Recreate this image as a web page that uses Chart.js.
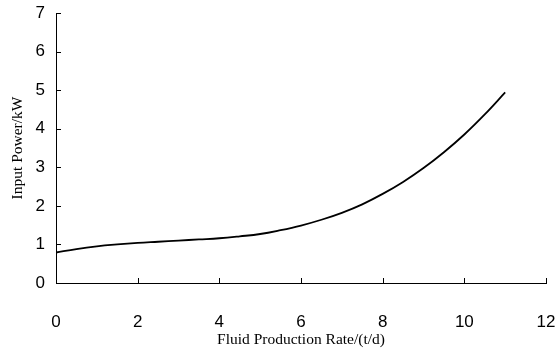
<!DOCTYPE html>
<html>
<head>
<meta charset="utf-8">
<script src="https://cdn.jsdelivr.net/npm/chart.js@4/dist/chart.umd.min.js"></script>
<style>
  html, body { margin: 0; padding: 0; background: #fff; }
  #wrap { width: 560px; height: 348px; }
</style>
</head>
<body>
<div id="wrap"><canvas id="myChart" width="560" height="348"></canvas></div>
<script>
// fluid production rate (t/d) and input power (kW)
const rate = [0, 0.5, 1, 1.5, 2, 2.5, 3, 3.5, 4, 4.5, 5, 5.5, 6, 6.5, 7, 7.5, 8, 8.5, 9, 9.5, 10, 10.5, 11];
const power = [0.79, 0.88, 0.95, 1.0, 1.04, 1.07, 1.1, 1.13, 1.16, 1.21, 1.27, 1.37, 1.49, 1.64, 1.82, 2.04, 2.31, 2.62, 2.98, 3.39, 3.85, 4.37, 4.94];
const xTitle = 'Fluid Production Rate/(t/d)';
const yTitle = 'Input Power/kW';

const points = rate.map((x, i) => ({ x: x, y: power[i] }));

// short tick marks pointing into the plot
const innerTicks = {
    id: 'innerTicks',
    afterDraw(chart) {
        const ctx = chart.ctx;
        const xs = chart.scales.x, ys = chart.scales.y;
        ctx.save();
        ctx.strokeStyle = '#000';
        ctx.lineWidth = 1;
        ctx.beginPath();
        xs.ticks.forEach(t => {
            const px = Math.round(xs.getPixelForValue(t.value)) + 0.5;
            ctx.moveTo(px, ys.bottom);
            ctx.lineTo(px, ys.bottom - 5);
        });
        ys.ticks.forEach(t => {
            const py = Math.round(ys.getPixelForValue(t.value)) + 0.5;
            ctx.moveTo(xs.left, py);
            ctx.lineTo(xs.left + 5, py);
        });
        ctx.stroke();
        ctx.restore();
    }
};

const tickFont = { family: '"Liberation Sans", Arial, sans-serif', size: 17 };
const titleFont = { family: '"Liberation Serif", "Times New Roman", serif', size: 15.5 };

function noPad(scale) {
    scale.paddingLeft = 0;
    scale.paddingRight = 0;
    scale.paddingTop = 0;
    scale.paddingBottom = 0;
}

new Chart(document.getElementById('myChart').getContext('2d'), {
    type: 'line',
    data: {
        datasets: [{
            data: points,
            borderColor: '#000',
            borderWidth: 1.8,
            pointRadius: 0,
            tension: 0.4,
            fill: false
        }]
    },
    options: {
        responsive: false,
        animation: false,
        layout: { padding: { top: 13, right: 14, left: 0, bottom: 0 } },
        plugins: { legend: { display: false }, tooltip: { enabled: false } },
        scales: {
            x: {
                type: 'linear',
                min: 0,
                max: 12,
                ticks: { stepSize: 2, color: '#000', font: tickFont, padding: 29, maxRotation: 0 },
                grid: { display: false, drawTicks: false },
                border: { display: true, color: '#000', width: 1 },
                title: { display: true, text: xTitle, color: '#000', font: titleFont, padding: { top: 0, bottom: -1 } },
                afterFit(scale) { scale.height = 65; noPad(scale); }
            },
            y: {
                min: 0,
                max: 7,
                ticks: { stepSize: 1, color: '#000', font: tickFont, padding: 11 },
                grid: { display: false, drawTicks: false },
                border: { display: true, color: '#000', width: 1 },
                title: { display: true, text: yTitle, color: '#000', font: titleFont, padding: { top: 9, bottom: 0 } },
                afterFit(scale) { scale.width = 56; noPad(scale); }
            }
        }
    },
    plugins: [innerTicks]
});
</script>
</body>
</html>
